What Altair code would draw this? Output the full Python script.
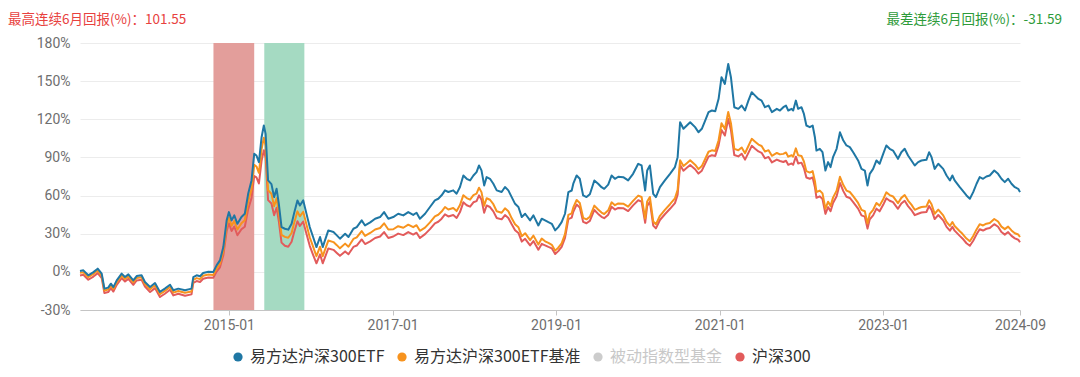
import altair as alt
import pandas as pd

# ---------------- data ----------------
dates = [
    "2013-03-07", "2013-03-22", "2013-04-13", "2013-05-06", "2013-05-25", "2013-06-12", "2013-06-24", "2013-07-11", "2013-07-23", "2013-08-03", "2013-08-18", "2013-09-09", "2013-09-24", "2013-10-09", "2013-10-31", "2013-11-15", "2013-12-07", "2013-12-22",
    "2014-01-14", "2014-02-05", "2014-02-27", "2014-03-21", "2014-04-13", "2014-04-28", "2014-05-20", "2014-06-19", "2014-07-18", "2014-07-26", "2014-08-10", "2014-08-25", "2014-09-08", "2014-10-01", "2014-10-23", "2014-11-07", "2014-11-22", "2014-12-07", "2014-12-22",
    "2015-01-01", "2015-01-13", "2015-01-25", "2015-02-08", "2015-02-26", "2015-03-13", "2015-03-28", "2015-04-12", "2015-04-24", "2015-05-04", "2015-05-15", "2015-05-27", "2015-06-06", "2015-06-14", "2015-06-25", "2015-07-10", "2015-07-22", "2015-08-02", "2015-08-12", "2015-08-24", "2015-09-08", "2015-09-23", "2015-10-08", "2015-10-19", "2015-11-03", "2015-11-14", "2015-11-29", "2015-12-13", "2015-12-28",
    "2016-01-12", "2016-01-27", "2016-02-12", "2016-02-24", "2016-03-05", "2016-03-20", "2016-04-12", "2016-04-27", "2016-05-11", "2016-06-03", "2016-06-18", "2016-07-10", "2016-07-25", "2016-08-16", "2016-08-31", "2016-09-23", "2016-10-15", "2016-11-06", "2016-11-24", "2016-12-13",
    "2017-01-04", "2017-01-26", "2017-02-18", "2017-03-12", "2017-04-03", "2017-04-18", "2017-05-03", "2017-05-26", "2017-06-17", "2017-07-09", "2017-07-24", "2017-08-08", "2017-08-23", "2017-09-07", "2017-09-29", "2017-10-14", "2017-10-29", "2017-11-13", "2017-11-28", "2017-12-13", "2017-12-28",
    "2018-01-11", "2018-01-22", "2018-02-02", "2018-02-14", "2018-02-25", "2018-03-12", "2018-03-27", "2018-04-11", "2018-05-03", "2018-05-18", "2018-06-02", "2018-06-17", "2018-07-02", "2018-07-17", "2018-08-01", "2018-08-16", "2018-09-07", "2018-09-22", "2018-10-14", "2018-10-29", "2018-11-13", "2018-11-28", "2018-12-13", "2018-12-28",
    "2019-01-11", "2019-01-26", "2019-02-10", "2019-02-25", "2019-03-12", "2019-03-19", "2019-04-03", "2019-04-17", "2019-05-02", "2019-05-17", "2019-06-01", "2019-06-21", "2019-07-08", "2019-07-23", "2019-08-04", "2019-08-22", "2019-09-06", "2019-09-21", "2019-10-06", "2019-10-28", "2019-11-19", "2019-12-11",
    "2020-01-03", "2020-01-18", "2020-02-03", "2020-02-12", "2020-02-24", "2020-03-10", "2020-03-22", "2020-04-09", "2020-05-01", "2020-05-24", "2020-06-15", "2020-06-27", "2020-07-08", "2020-07-23", "2020-08-07", "2020-08-22", "2020-09-13", "2020-09-28", "2020-10-13", "2020-10-28", "2020-11-12", "2020-11-27", "2020-12-12", "2020-12-27",
    "2021-01-09", "2021-01-24", "2021-02-08", "2021-02-20", "2021-03-07", "2021-03-25", "2021-04-09", "2021-04-24", "2021-05-09", "2021-05-24", "2021-06-08", "2021-06-23", "2021-07-07", "2021-07-22", "2021-08-07", "2021-08-22", "2021-09-13", "2021-09-27", "2021-10-12", "2021-10-24", "2021-11-03", "2021-11-18", "2021-11-25", "2021-12-07", "2021-12-17",
    "2022-01-01", "2022-01-12", "2022-01-23", "2022-02-07", "2022-02-20", "2022-03-02", "2022-03-09", "2022-03-24", "2022-04-05", "2022-04-18", "2022-04-30", "2022-05-11", "2022-05-22", "2022-06-07", "2022-06-22", "2022-07-07", "2022-07-21", "2022-08-05", "2022-08-20", "2022-09-11", "2022-09-26", "2022-10-11", "2022-10-23", "2022-11-02", "2022-11-17", "2022-12-02", "2022-12-16",
    "2023-01-01", "2023-01-15", "2023-01-30", "2023-02-14", "2023-03-08", "2023-03-23", "2023-04-07", "2023-04-22", "2023-05-07", "2023-05-22", "2023-06-06", "2023-06-21", "2023-07-13", "2023-07-25", "2023-08-05", "2023-08-19", "2023-09-04", "2023-09-26", "2023-10-11", "2023-10-26", "2023-11-06", "2023-11-16", "2023-12-09", "2023-12-21",
    "2024-01-08", "2024-01-23", "2024-02-07", "2024-02-22", "2024-03-07", "2024-03-22", "2024-04-06", "2024-04-21", "2024-05-11", "2024-05-28", "2024-06-12", "2024-06-27", "2024-07-12", "2024-07-27", "2024-08-11", "2024-08-26", "2024-09-03",
]

# 易方达沪深300ETF (cumulative return, %)
etf = [
    0.7, 1.2, -2.7, -0.2, 2.5, -1.4, -13.2, -12.4, -9.3, -12.0, -6.7, -1.4, -4.1, -2.0, -6.7, -3.3, -2.7, -8.0,
    -11.9, -8.8, -15.8, -13.2, -10.1, -14.5, -13.2, -14.5, -13.2, -4.1, -2.7, -3.5, -0.9, 0.1, -0.2, 5.1, 9.0, 19.5, 40.5,
    47.0, 40.5, 44.4, 37.8, 43.1, 45.7, 61.4, 71.9, 92.8, 91.5, 86.3, 105.9, 115.1, 108.5, 71.9, 69.0, 58.8, 65.3, 53.5, 35.2, 33.9, 33.2, 37.8, 46.0, 56.2, 52.2, 56.2, 46.0, 35.2,
    27.4, 19.5, 27.4, 19.5, 24.8, 32.6, 31.3, 28.7, 26.1, 30.0, 27.4, 33.9, 35.2, 40.5, 36.5, 38.9, 41.8, 43.1, 47.0, 41.8,
    43.1, 45.7, 44.4, 47.0, 44.8, 46.5, 41.8, 45.7, 51.0, 56.2, 57.5, 60.2, 64.1, 62.8, 64.1, 61.5, 66.7, 75.8, 73.2, 71.9, 75.8,
    78.4, 83.7, 79.8, 68.0, 74.5, 73.2, 69.3, 64.1, 62.8, 66.7, 64.1, 58.8, 53.5, 51.0, 43.1, 45.7, 40.5, 44.4, 36.5, 41.8, 40.5, 39.1, 37.8, 32.6,
    35.2, 39.1, 45.7, 62.7, 64.0, 69.3, 75.8, 73.2, 60.1, 58.8, 61.0, 71.9, 69.3, 66.6, 65.3, 68.6, 75.8, 73.2, 74.8, 74.5, 71.9, 77.1,
    85.0, 83.7, 64.0, 79.7, 83.7, 61.4, 58.8, 66.6, 71.9, 77.1, 82.4, 90.2, 117.7, 112.5, 115.1, 117.7, 113.8, 109.8, 112.5, 119.0, 125.6, 126.9, 126.3, 136.1,
    153.1, 147.8, 163.5, 153.1, 129.5, 128.2, 130.8, 126.9, 134.7, 141.3, 138.6, 136.0, 134.7, 129.5, 130.8, 125.6, 128.2, 126.9, 129.5, 130.8, 126.9, 128.2, 126.9, 134.7, 128.2,
    129.5, 124.2, 115.1, 113.8, 115.1, 105.9, 95.4, 96.8, 94.1, 79.7, 86.3, 82.4, 90.2, 96.8, 109.8, 103.3, 99.4, 98.1, 94.1, 87.6, 81.0, 79.7, 67.9, 77.1, 81.0, 87.6, 85.0,
    92.8, 99.4, 96.8, 95.4, 88.9, 94.1, 96.8, 91.5, 87.6, 83.7, 86.3, 87.6, 88.1, 94.1, 90.2, 81.0, 85.0, 81.0, 75.8, 71.9, 75.8, 71.9, 66.6, 64.0,
    60.1, 57.5, 62.7, 69.3, 74.5, 73.2, 75.0, 75.8, 79.7, 77.1, 73.2, 70.6, 73.2, 69.3, 66.6, 65.3, 62.7,
]

# 易方达沪深300ETF基准 (%)
bench = [
    -0.8, -0.3, -4.2, -1.7, 1.0, -2.9, -14.7, -13.9, -10.8, -13.5, -8.2, -2.9, -5.6, -3.5, -8.2, -4.8, -4.2, -9.5,
    -13.7, -10.6, -17.6, -15.0, -11.9, -16.3, -15.0, -16.5, -15.4, -6.3, -4.9, -5.7, -3.1, -2.1, -2.4, 2.6, 6.3, 16.3, 36.4,
    42.6, 36.3, 40.1, 33.3, 38.2, 40.6, 55.3, 65.0, 84.1, 82.9, 77.9, 96.6, 105.4, 99.1, 64.2, 61.4, 51.6, 57.9, 46.6, 29.1, 27.5, 26.8, 30.6, 38.3, 47.6, 43.7, 47.3, 37.5, 27.2,
    19.8, 12.3, 19.8, 12.3, 17.3, 24.6, 23.4, 21.0, 18.5, 22.2, 19.8, 25.9, 27.1, 32.1, 28.3, 30.6, 33.3, 34.5, 38.2, 33.3,
    33.5, 35.9, 34.7, 37.1, 35.1, 36.7, 32.3, 34.8, 38.9, 43.7, 44.9, 47.4, 51.0, 49.0, 50.2, 47.8, 52.5, 60.3, 58.0, 56.8, 60.3,
    61.5, 66.2, 62.7, 52.0, 57.9, 56.7, 53.2, 47.7, 46.5, 50.0, 47.7, 42.1, 37.4, 35.1, 28.1, 30.4, 25.0, 28.5, 21.5, 26.2, 24.0, 22.8, 21.3, 16.7,
    19.0, 22.4, 29.7, 44.8, 46.0, 50.7, 56.5, 54.1, 42.5, 41.3, 43.3, 52.1, 49.0, 46.6, 45.5, 48.4, 54.7, 52.4, 53.8, 53.6, 51.3, 55.8,
    60.0, 58.9, 41.9, 55.4, 58.9, 39.6, 37.4, 44.1, 48.7, 53.2, 57.8, 64.5, 87.7, 83.2, 85.4, 87.7, 84.3, 80.8, 83.2, 88.8, 94.5, 95.6, 95.1, 103.5,
    116.9, 112.4, 125.8, 116.9, 96.7, 95.6, 97.8, 93.3, 99.0, 104.6, 102.3, 100.1, 99.0, 94.6, 95.7, 91.3, 93.5, 92.4, 92.8, 93.9, 90.6, 91.7, 90.6, 97.1, 91.7,
    91.2, 86.8, 79.2, 78.1, 79.2, 71.5, 62.8, 63.9, 61.7, 49.7, 55.2, 51.9, 58.4, 63.9, 74.8, 68.3, 63.9, 62.8, 59.6, 54.2, 48.8, 47.7, 38.0, 45.6, 48.8, 54.2, 52.1,
    57.1, 62.5, 60.4, 59.3, 54.0, 58.2, 60.4, 56.1, 52.9, 48.8, 50.0, 51.0, 51.4, 56.3, 53.1, 45.7, 48.9, 44.4, 39.2, 36.1, 39.2, 36.1, 31.9, 29.9,
    26.2, 24.1, 28.2, 33.4, 37.5, 36.5, 37.9, 38.5, 41.6, 39.6, 35.6, 33.6, 35.6, 32.6, 30.4, 29.4, 27.4,
]

# 沪深300 (%)
hs300 = [
    -2.8, -2.3, -6.2, -3.7, -1.0, -4.9, -16.7, -15.9, -12.8, -15.5, -10.2, -4.9, -7.6, -5.5, -10.2, -6.8, -6.2, -11.5,
    -15.9, -12.8, -19.8, -17.2, -14.1, -18.5, -17.2, -18.8, -17.7, -8.6, -7.2, -8.0, -5.4, -4.4, -4.7, 0.2, 3.6, 13.0, 32.1,
    38.2, 32.1, 35.7, 28.8, 33.5, 35.5, 49.3, 58.1, 75.4, 74.3, 69.5, 87.4, 95.7, 89.7, 56.4, 53.8, 44.5, 50.4, 39.7, 23.0, 20.5, 19.7, 23.7, 31.0, 39.8, 36.1, 39.5, 30.2, 20.5,
    13.4, 6.7, 13.8, 6.7, 11.4, 18.4, 17.3, 14.9, 12.6, 16.1, 13.8, 19.6, 20.7, 25.5, 21.9, 24.0, 26.6, 27.8, 31.3, 26.6,
    27.8, 30.1, 28.9, 31.3, 29.3, 30.8, 26.6, 29.7, 33.6, 38.2, 39.4, 41.8, 45.2, 43.6, 44.7, 42.4, 47.0, 54.7, 52.4, 51.3, 54.7,
    55.6, 60.2, 56.8, 46.5, 52.2, 51.0, 47.6, 42.4, 41.3, 44.7, 42.4, 37.4, 32.8, 30.6, 23.8, 26.0, 20.8, 24.2, 17.4, 22.0, 20.8, 19.6, 18.5, 14.0,
    16.3, 19.6, 26.8, 41.5, 42.7, 47.3, 52.9, 50.7, 39.3, 38.2, 40.1, 48.7, 45.6, 43.3, 42.2, 45.0, 51.2, 49.0, 50.3, 50.1, 47.8, 52.3,
    56.3, 55.2, 38.6, 51.8, 55.2, 36.4, 34.2, 40.8, 45.3, 49.6, 54.1, 60.7, 84.0, 79.6, 81.8, 84.0, 80.7, 77.3, 79.6, 85.1, 90.6, 91.7, 91.2, 99.5,
    111.6, 107.2, 120.3, 111.6, 91.9, 90.8, 92.9, 88.3, 93.6, 99.1, 96.8, 94.7, 93.6, 89.3, 90.4, 86.1, 88.3, 87.2, 86.4, 87.4, 84.2, 85.3, 84.2, 90.6, 85.3,
    85.9, 81.6, 74.2, 73.2, 74.2, 66.8, 58.3, 59.4, 57.2, 45.6, 50.9, 47.7, 54.1, 59.4, 69.9, 63.5, 59.1, 58.1, 54.9, 49.7, 44.4, 43.4, 34.0, 41.3, 44.4, 49.7, 47.6,
    52.7, 57.9, 55.9, 54.8, 49.6, 53.7, 55.9, 51.7, 48.6, 44.6, 45.7, 46.7, 47.1, 51.8, 48.7, 41.5, 44.7, 40.5, 35.4, 32.4, 35.4, 32.4, 28.3, 26.3,
    22.5, 20.5, 24.5, 29.5, 33.5, 32.5, 33.9, 34.5, 37.5, 35.5, 31.3, 29.3, 31.3, 28.3, 26.3, 25.3, 23.3,
]

series_names = ["易方达沪深300ETF", "易方达沪深300ETF基准", "被动指数型基金", "沪深300"]
series_colors = ["#1f77a4", "#f7931e", "#cccccc", "#e25b5b"]

best_label = "最高连续6月回报(%)："
best_value = 101.55
worst_label = "最差连续6月回报(%)："
worst_value = -31.59
best_window = ["2014-10-24", "2015-04-24"]
worst_window = ["2015-06-08", "2015-12-04"]

y_ticks = [-30, 0, 30, 60, 90, 120, 150, 180]
x_tick_dates = ["2015-01-01", "2017-01-01", "2019-01-01", "2021-01-01", "2023-01-01", dates[-1]]

# ---------------- chart ----------------
W, H = 940, 267
LATIN = "Roboto"
CJK = "Noto Sans CJK SC"


def dt(s):
    y, m, d = (int(p) for p in s.split("-"))
    return alt.DateTime(year=y, month=m, date=d)


x_scale = alt.Scale(domain=[dt(dates[0]), dt(dates[-1])], nice=False)
x_axis = alt.Axis(
    values=[dt(s) for s in x_tick_dates], format="%Y-%m", title=None, grid=False,
    labelFont=LATIN, labelFontSize=14, labelColor="#6e6e6e", labelPadding=3,
    tickColor="#c4c4c4", tickSize=5, domainColor="#c4c4c4", domainWidth=1,
    labelFlush=False, labelOverlap=False,
)
y_scale = alt.Scale(domain=[-30, 180], nice=False, zero=False)
y_axis = alt.Axis(
    values=y_ticks, labelExpr="datum.value + '%'", title=None, domain=False, ticks=False,
    grid=True, gridColor="#ececec", gridWidth=1,
    labelFont=LATIN, labelFontSize=14, labelColor="#6e6e6e", labelPadding=10,
)
color_scale = alt.Scale(domain=series_names, range=series_colors)

n = len(dates)
df = pd.DataFrame({
    "date": pd.to_datetime(dates * 3),
    "series": [series_names[0]] * n + [series_names[1]] * n + [series_names[3]] * n,
    "value": etf + bench + hs300,
})


def window_layer(win, color):
    wdf = pd.DataFrame({"start": pd.to_datetime([win[0]]), "end": pd.to_datetime([win[1]])})
    return alt.Chart(wdf).mark_rect(color=color).encode(
        x=alt.X("start:T", scale=x_scale, axis=x_axis),
        x2="end:T",
        y=alt.value(0),
        y2=alt.value(H),
    )


def line_layer(idx):
    name = series_names[idx]
    return alt.Chart(df).transform_filter(alt.datum.series == name).mark_line(
        strokeWidth=2, strokeJoin="round", color=series_colors[idx]
    ).encode(
        x=alt.X("date:T", scale=x_scale, axis=x_axis),
        y=alt.Y("value:Q", scale=y_scale, axis=y_axis),
    )


legend_layer = alt.Chart(pd.DataFrame({"series": series_names})).mark_point(
    filled=True, opacity=0
).encode(
    color=alt.Color(
        "series:N", scale=color_scale,
        legend=alt.Legend(
            orient="none", legendX=150, legendY=306, direction="horizontal", title=None,
            symbolType="circle", symbolSize=85, symbolOpacity=1, symbolStrokeWidth=0,
            labelFont=CJK, labelFontSize=16, labelOffset=4, labelLimit=400,
            columnPadding=9, padding=0,
            labelColor=alt.ExprRef("datum.label == '被动指数型基金' ? '#c8c8c8' : '#333333'"),
        ),
    )
)

best_text = alt.Chart(pd.DataFrame({"t": [f"{best_label}{best_value}"]})).mark_text(
    align="left", baseline="middle", font=CJK, fontSize=13.5, color="#e8413e"
).encode(x=alt.value(-72), y=alt.value(-23), text="t:N")

worst_text = alt.Chart(pd.DataFrame({"t": [f"{worst_label}{worst_value}"]})).mark_text(
    align="right", baseline="middle", font=CJK, fontSize=13.5, color="#2e9b3a"
).encode(x=alt.value(982), y=alt.value(-23), text="t:N")

chart = alt.layer(
    window_layer(best_window, "#e39e9b"),
    window_layer(worst_window, "#a5dac2"),
    line_layer(3),
    line_layer(1),
    line_layer(0),
    legend_layer,
    best_text,
    worst_text,
).properties(
    width=W, height=H,
    autosize=alt.AutoSizeParams(type="none"),
    padding={"left": 72, "top": 35, "right": 52, "bottom": 59},
    background="white",
).configure_view(stroke=None)

chart.save("out.html", embed_options={"renderer": "svg", "actions": False})
